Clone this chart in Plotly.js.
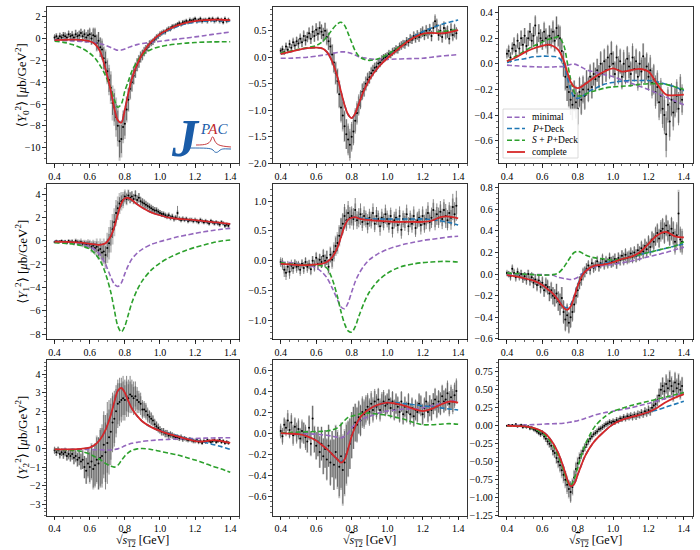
<!DOCTYPE html>
<html><head><meta charset="utf-8">
<script src="https://cdn.plot.ly/plotly-3.0.1.min.js"></script>
<style>body{margin:0;background:#fff}#chart{width:700px;height:550px}</style>
</head><body><div id="chart"></div>
<script>
// ---------- data ----------
const xData = [0.40,0.41,0.42,0.43,0.44,0.45,0.46,0.47,0.48,0.49,
0.50,0.51,0.52,0.53,0.54,0.55,0.56,0.57,0.58,0.59,
0.60,0.61,0.62,0.63,0.64,0.65,0.66,0.67,0.68,0.69,
0.70,0.71,0.72,0.73,0.74,0.75,0.76,0.77,0.78,0.79,
0.80,0.81,0.82,0.83,0.84,0.85,0.86,0.87,0.88,0.89,
0.90,0.91,0.92,0.93,0.94,0.95,0.96,0.97,0.98,0.99,
1.00,1.01,1.02,1.03,1.04,1.05,1.06,1.07,1.08,1.09,
1.10,1.11,1.12,1.13,1.14,1.15,1.16,1.17,1.18,1.19,
1.20,1.21,1.22,1.23,1.24,1.25,1.26,1.27,1.28,1.29,
1.30,1.31,1.32,1.33,1.34,1.35,1.36,1.37,1.38,1.39];
const xCurve = [0.40,0.45,0.50,0.55,0.60,0.63,0.66,0.69,0.72,0.74,0.76,0.78,0.80,0.82,0.84,0.87,0.90,0.95,1.00,1.05,1.10,1.15,1.20,1.25,1.30,1.35,1.40];

// Panel 1: <Y_0^2>, column 1
const p1Val = [0.1,0.2,0.0,0.2,0.1,0.3,0.2,0.1,0.4,0.2, 0.3,0.1,0.4,0.2,0.3,0.5,0.2,0.4,0.1,0.3,
0.4,0.0,0.3,0.2,-0.4,-0.2,-0.8,-1.0,-1.8,-2.2, -3.0,-3.8,-4.5,-5.9,-6.3,-7.2,-8.0,-9.4,-9.2,-8.1,
-7.8,-6.5,-5.6,-4.6,-4.0,-3.4,-2.9,-2.4,-2.1,-1.7, -1.5,-1.2,-1.0,-0.8,-0.5,-0.4,-0.3,-0.1,0.1,0.2,
0.4,0.5,0.6,0.6,0.8,0.9,0.9,1.1,1.1,1.2, 1.3,1.4,1.3,1.5,1.5,1.6,1.5,1.7,1.6,1.7,
1.8,1.6,1.7,1.8,1.6,1.7,1.7,1.6,1.8,1.7, 1.8,1.6,1.7,1.8,1.6,1.7,1.5,1.8,1.6,1.7];
const p1Stat = [.3,.25,.3,.35,.3,.3,.4,.3,.35,.3, .4,.35,.4,.4,.45,.4,.5,.45,.5,.5,
.6,.55,.7,.8,.7,.8,.9,.8,1,1, 1,1.1,1.2,1.1,1.3,1.2,1.4,1.5,1.3,1.2,
1.1,1,1,.9,.8,.8,.7,.6,.6,.5, .5,.45,.4,.4,.35,.3,.3,.3,.3,.25,
.25,.25,.2,.25,.2,.2,.25,.2,.2,.2, .2,.2,.2,.2,.15,.2,.2,.15,.2,.2,
.2,.2,.15,.2,.2,.15,.2,.2,.15,.2, .2,.15,.2,.2,.15,.2,.2,.15,.2,.2];
const p1Sys = [.2,.3,.2,.3,.25,.3,.3,.35,.3,.3, .35,.3,.4,.35,.4,.4,.45,.4,.45,.5,
.5,.6,.6,.7,.8,.8,.9,1,1.1,1.2, 1.2,1.4,1.5,1.6,1.7,1.8,1.9,1.8,1.7,1.5,
1.4,1.2,1.1,1,.9,.8,.7,.6,.55,.5, .45,.4,.4,.35,.3,.3,.3,.25,.25,.25,
.25,.2,.25,.2,.2,.25,.2,.2,.25,.2, .2,.25,.2,.2,.25,.2,.2,.25,.2,.2,
.2,.25,.2,.2,.25,.2,.2,.25,.2,.2, .2,.25,.2,.2,.25,.2,.2,.25,.2,.2];
const p1Min = [-0.15,-0.18,-0.22,-0.26,-0.32,-0.38,-0.48,-0.62,-0.82,-0.96,-1.08,-1.06,-0.95,-0.82,-0.70,-0.56,-0.46,-0.35,-0.25,-0.15,-0.05,0.05,0.15,0.26,0.38,0.49,0.60];
const p1PDeck = [-0.12,-0.10,-0.10,-0.12,-0.25,-0.5,-1.2,-2.8,-4.8,-6.4,-7.5,-7.7,-6.5,-5.0,-3.7,-2.4,-1.4,-0.35,0.3,0.75,1.1,1.35,1.5,1.58,1.63,1.64,1.62];
const p1SPDeck = [-0.25,-0.35,-0.55,-0.85,-1.35,-1.8,-2.5,-3.4,-4.6,-5.6,-6.3,-6.0,-4.8,-3.9,-3.0,-2.1,-1.5,-1.0,-0.75,-0.6,-0.5,-0.42,-0.37,-0.33,-0.31,-0.30,-0.29];
const p1Full = [-0.15,-0.12,-0.10,-0.12,-0.25,-0.5,-1.2,-2.8,-4.8,-6.4,-7.5,-7.7,-6.5,-5.0,-3.7,-2.4,-1.4,-0.3,0.4,0.85,1.2,1.45,1.6,1.68,1.72,1.72,1.68];

// Panel 2: <Y_0^2>, column 2
const p2Val = [0.12,0.15,0.10,0.20,0.14,0.25,0.18,0.28,0.22,0.30, 0.26,0.35,0.28,0.40,0.32,0.38,0.45,0.35,0.48,0.40,
0.52,0.44,0.55,0.48,0.42,0.50,0.38,0.30,0.20,0.05, -0.10,-0.30,-0.45,-0.70,-0.95,-1.10,-1.30,-1.45,-1.55,-1.65,
-1.50,-1.40,-1.20,-1.05,-0.90,-0.80,-0.65,-0.60,-0.50,-0.42, -0.38,-0.30,-0.25,-0.20,-0.18,-0.12,-0.10,-0.05,-0.02,0.00,
0.02,0.06,0.05,0.10,0.12,0.15,0.14,0.20,0.22,0.25, 0.24,0.30,0.28,0.35,0.33,0.40,0.36,0.42,0.38,0.45,
0.48,0.42,0.50,0.45,0.52,0.40,0.55,0.68,0.60,0.42, 0.50,0.38,0.55,0.45,0.48,0.35,0.52,0.42,0.50,0.45];
const p2Stat = [.06,.07,.06,.08,.07,.08,.07,.09,.08,.09, .09,.1,.09,.11,.1,.1,.12,.1,.12,.11,
.12,.13,.12,.14,.13,.15,.14,.16,.16,.18, .18,.2,.22,.24,.25,.26,.28,.28,.3,.3,
.28,.26,.24,.22,.2,.18,.16,.15,.14,.13, .12,.12,.11,.1,.1,.09,.09,.09,.08,.08,
.08,.08,.07,.08,.07,.08,.07,.08,.08,.07, .08,.08,.08,.09,.08,.09,.08,.09,.09,.1,
.1,.1,.11,.1,.11,.1,.12,.13,.13,.11, .12,.11,.13,.12,.12,.11,.13,.12,.13,.12];
const p2Sys = [.05,.06,.05,.07,.06,.07,.06,.07,.07,.08, .08,.08,.09,.09,.1,.09,.1,.1,.11,.11,
.12,.12,.13,.13,.14,.15,.16,.17,.18,.2, .2,.22,.24,.26,.28,.3,.3,.28,.26,.25,
.24,.22,.2,.18,.16,.15,.14,.13,.12,.12, .11,.1,.1,.09,.09,.09,.08,.08,.08,.07,
.07,.07,.07,.07,.07,.07,.07,.07,.08,.08, .08,.08,.08,.08,.08,.08,.09,.09,.09,.09,
.1,.09,.1,.1,.1,.1,.11,.1,.11,.1, .11,.1,.11,.1,.11,.1,.11,.1,.11,.1];
const p2Min = [-0.02,-0.02,-0.01,0.00,0.02,0.035,0.05,0.07,0.09,0.10,0.10,0.09,0.07,0.04,0.01,-0.01,-0.03,-0.04,-0.04,-0.035,-0.03,-0.025,-0.02,0.0,0.02,0.035,0.05];
const p2PDeck = [0.06,0.10,0.14,0.17,0.18,0.17,0.10,-0.08,-0.38,-0.65,-0.90,-1.08,-1.15,-1.06,-0.88,-0.62,-0.42,-0.19,-0.01,0.14,0.28,0.39,0.48,0.55,0.61,0.66,0.70];
const p2SPDeck = [0.08,0.11,0.15,0.18,0.22,0.28,0.38,0.52,0.63,0.66,0.60,0.45,0.28,0.12,0.02,-0.04,-0.06,-0.03,0.05,0.15,0.27,0.37,0.43,0.46,0.48,0.50,0.52];
const p2Full = [0.06,0.10,0.14,0.17,0.18,0.17,0.10,-0.08,-0.38,-0.65,-0.90,-1.08,-1.15,-1.06,-0.88,-0.62,-0.42,-0.19,-0.02,0.12,0.26,0.37,0.44,0.46,0.45,0.47,0.51];

// Panel 3: <Y_0^2>, column 3
const p3Val = [0.08,0.10,0.05,0.12,0.15,0.10,0.18,0.12,0.20,0.15, 0.22,0.14,0.20,0.25,0.18,0.22,0.30,0.15,0.24,0.20,
0.18,0.25,0.20,0.15,0.22,0.20,0.25,0.18,0.28,0.22, 0.20,0.10,0.00,-0.10,-0.18,-0.22,-0.28,-0.32,-0.25,-0.30,
-0.35,-0.22,-0.28,-0.20,-0.25,-0.15,-0.20,-0.10,-0.18,-0.08, -0.12,-0.05,-0.10,0.00,-0.08,0.02,-0.05,0.05,-0.02,0.08,
0.00,-0.08,0.05,-0.05,0.02,-0.10,0.00,-0.06,0.04,-0.02, -0.08,0.05,-0.04,0.02,-0.10,0.00,-0.06,0.06,-0.05,-0.02,
-0.10,-0.05,-0.15,-0.12,-0.22,-0.18,-0.30,-0.25,-0.35,-0.40, -0.55,-0.32,-0.45,-0.28,-0.38,-0.30,-0.25,-0.35,-0.20,-0.28];
const p3Stat = [.04,.05,.04,.05,.06,.05,.06,.05,.06,.06, .06,.07,.06,.07,.06,.07,.08,.06,.07,.07,
.07,.08,.07,.07,.08,.07,.08,.08,.09,.08, .09,.09,.1,.1,.11,.11,.12,.12,.12,.13,
.13,.12,.12,.11,.11,.1,.1,.1,.09,.09, .09,.09,.09,.1,.09,.1,.09,.1,.1,.1,
.1,.1,.1,.11,.1,.1,.11,.1,.1,.11, .1,.11,.1,.1,.11,.1,.11,.1,.1,.11,
.11,.12,.12,.12,.13,.13,.14,.14,.15,.15, .18,.14,.15,.13,.14,.12,.13,.13,.12,.12];
const p3Sys = [.03,.04,.04,.04,.05,.05,.05,.05,.06,.06, .06,.06,.06,.07,.06,.07,.07,.07,.07,.07,
.07,.07,.08,.08,.08,.08,.09,.09,.09,.09, .1,.1,.1,.11,.11,.12,.12,.12,.12,.12,
.12,.11,.11,.1,.1,.1,.09,.09,.09,.09, .09,.09,.09,.09,.09,.09,.09,.09,.09,.09,
.09,.09,.09,.09,.09,.09,.09,.09,.09,.09, .09,.09,.09,.09,.09,.09,.09,.1,.1,.1,
.1,.1,.1,.11,.11,.11,.12,.12,.12,.12, .13,.12,.12,.12,.11,.11,.11,.11,.1,.1];
const p3Min = [-0.01,-0.015,-0.02,-0.022,-0.025,-0.025,-0.024,-0.022,-0.02,-0.012,-0.005,-0.002,-0.01,-0.025,-0.04,-0.055,-0.065,-0.085,-0.10,-0.125,-0.15,-0.175,-0.20,-0.23,-0.26,-0.29,-0.32];
const p3PDeck = [0.01,0.03,0.04,0.055,0.06,0.06,0.058,0.05,0.0,-0.1,-0.2,-0.26,-0.27,-0.26,-0.24,-0.21,-0.19,-0.16,-0.145,-0.135,-0.13,-0.13,-0.13,-0.14,-0.16,-0.18,-0.21];
const p3SPDeck = [0.02,0.06,0.10,0.14,0.17,0.19,0.20,0.21,0.15,0.02,-0.12,-0.22,-0.25,-0.25,-0.24,-0.22,-0.21,-0.19,-0.18,-0.175,-0.17,-0.16,-0.155,-0.155,-0.16,-0.18,-0.20];
const p3Full = [0.02,0.05,0.09,0.12,0.14,0.15,0.14,0.11,0.03,-0.06,-0.14,-0.18,-0.19,-0.18,-0.16,-0.13,-0.10,-0.06,-0.035,-0.06,-0.05,-0.04,-0.06,-0.16,-0.24,-0.245,-0.24];

// Panel 4: <Y_1^2>, column 1
const p4Val = [-0.1,0.0,-0.1,-0.05,0.0,-0.1,-0.05,-0.15,0.0,-0.1, -0.05,-0.2,0.0,-0.1,-0.15,-0.1,-0.25,-0.2,-0.3,-0.25,
-0.3,-0.5,-0.4,-0.6,-0.5,-0.8,-0.7,-1.0,-0.9,-1.2, -0.6,-0.2,0.4,1.0,1.6,2.4,2.8,3.2,3.4,3.5,
3.8,3.6,3.9,3.7,3.8,3.6,3.9,3.5,3.7,3.4, 3.3,3.2,3.1,3.0,2.9,2.8,2.7,2.6,2.6,2.5,
2.4,2.3,2.3,2.2,2.1,2.2,2.0,2.1,1.9,2.0, 2.4,1.9,1.8,1.9,1.8,1.9,1.7,1.8,1.8,1.7,
1.8,1.7,1.6,1.8,1.7,1.6,1.7,1.6,1.5,1.7, 1.6,1.5,1.6,1.5,1.4,1.6,1.5,1.3,1.4,1.3];
const p4Stat = [.1,.1,.1,.1,.12,.1,.12,.12,.12,.12, .15,.15,.15,.15,.18,.18,.2,.2,.25,.25,
.3,.35,.35,.4,.45,.5,.55,.6,.7,.75, .8,.8,.8,.75,.7,.65,.6,.55,.5,.5,
.45,.45,.45,.45,.45,.4,.45,.4,.4,.4, .35,.35,.35,.3,.3,.3,.3,.3,.25,.25,
.25,.25,.2,.2,.2,.2,.2,.2,.2,.2, .6,.2,.2,.2,.15,.15,.15,.15,.15,.15,
.15,.15,.15,.15,.15,.15,.15,.15,.15,.15, .15,.15,.15,.15,.15,.15,.15,.15,.15,.15];
const p4Sys = [.1,.1,.12,.12,.12,.15,.15,.15,.15,.2, .2,.2,.2,.25,.25,.3,.3,.3,.35,.4,
.4,.5,.5,.6,.7,.8,.9,1,1.1,1.2, 1.3,1.4,1.4,1.3,1.2,1.1,1,.9,.8,.7,
.6,.55,.5,.5,.45,.45,.4,.4,.4,.35, .35,.35,.3,.3,.3,.3,.3,.3,.3,.25,
.25,.25,.25,.25,.25,.25,.25,.25,.25,.25, .2,.2,.2,.2,.2,.2,.2,.2,.2,.2,
.2,.2,.2,.2,.2,.2,.2,.2,.2,.2, .2,.2,.2,.2,.2,.2,.2,.2,.2,.2];
const p4Min = [-0.1,-0.15,-0.2,-0.3,-0.5,-0.75,-1.2,-2.0,-3.1,-3.7,-3.9,-3.6,-2.8,-2.1,-1.55,-1.05,-0.7,-0.3,-0.05,0.15,0.35,0.5,0.65,0.78,0.9,1.0,1.08];
const p4PDeck = [-0.02,-0.06,-0.1,-0.15,-0.25,-0.3,-0.33,-0.2,0.4,1.2,2.3,3.2,3.65,3.68,3.5,3.15,2.85,2.45,2.2,2.0,1.9,1.83,1.76,1.68,1.6,1.52,1.44];
const p4SPDeck = [-0.15,-0.2,-0.25,-0.4,-0.7,-1.1,-1.7,-2.8,-4.4,-5.9,-7.3,-7.8,-7.3,-6.3,-5.3,-4.2,-3.4,-2.5,-1.9,-1.45,-1.1,-0.8,-0.55,-0.35,-0.15,0.0,0.08];
const p4Full = [-0.05,-0.08,-0.1,-0.15,-0.25,-0.3,-0.33,-0.2,0.4,1.2,2.3,3.2,3.65,3.68,3.5,3.15,2.85,2.45,2.2,2.0,1.9,1.85,1.78,1.7,1.62,1.55,1.45];

// Panel 5: <Y_1^2>, column 2
const p5Val = [-0.02,-0.05,-0.15,-0.20,-0.10,-0.18,-0.08,-0.12,-0.05,-0.10, -0.08,-0.15,-0.05,-0.12,-0.02,-0.10,-0.06,-0.14,0.00,-0.08,
0.05,-0.05,0.02,-0.02,0.08,0.00,0.05,-0.10,0.10,0.02, 0.15,0.25,0.30,0.42,0.55,0.62,0.75,0.68,0.80,0.72,
0.75,0.70,0.85,0.68,0.72,0.78,0.65,0.75,0.70,0.62, 0.72,0.68,0.80,0.62,0.75,0.70,0.58,0.72,0.65,0.78,
0.70,0.62,0.75,0.55,0.68,0.72,0.60,0.75,0.52,0.70, 0.65,0.78,0.58,0.70,0.62,0.75,0.55,0.68,0.72,0.60,
0.75,0.62,0.70,0.80,0.65,0.72,0.85,0.68,0.78,0.72, 0.82,0.70,0.85,0.75,0.68,0.80,0.72,0.90,0.78,0.92];
const p5Stat = [.08,.1,.12,.12,.1,.12,.1,.1,.08,.1, .08,.1,.08,.1,.08,.1,.08,.1,.08,.1,
.1,.1,.1,.1,.12,.1,.12,.1,.12,.12, .12,.14,.14,.15,.16,.18,.2,.18,.2,.18,
.16,.18,.2,.15,.16,.18,.15,.16,.14,.16, .15,.14,.16,.14,.15,.14,.16,.15,.14,.16,
.14,.15,.14,.16,.14,.15,.14,.16,.15,.14, .15,.16,.15,.14,.15,.16,.15,.14,.15,.16,
.16,.15,.17,.18,.16,.17,.18,.17,.18,.17, .18,.17,.18,.2,.17,.18,.2,.22,.2,.25];
const p5Sys = [.05,.06,.06,.07,.06,.07,.06,.07,.06,.07, .06,.07,.06,.07,.07,.07,.07,.08,.08,.08,
.08,.09,.09,.1,.1,.11,.12,.13,.14,.15, .16,.17,.18,.18,.17,.16,.15,.14,.13,.12,
.12,.11,.11,.1,.1,.1,.1,.1,.1,.1, .1,.1,.1,.1,.1,.1,.1,.1,.1,.1,
.1,.1,.1,.1,.1,.1,.1,.1,.1,.1, .1,.1,.1,.1,.1,.11,.11,.11,.11,.11,
.11,.11,.11,.12,.12,.12,.12,.12,.12,.12, .12,.12,.13,.13,.13,.13,.13,.14,.14,.14];
const p5Min = [-0.02,-0.03,-0.05,-0.07,-0.12,-0.18,-0.28,-0.45,-0.65,-0.77,-0.8,-0.7,-0.52,-0.35,-0.22,-0.08,0.02,0.12,0.19,0.24,0.28,0.31,0.34,0.36,0.38,0.40,0.41];
const p5PDeck = [-0.05,-0.06,-0.07,-0.07,-0.06,-0.05,-0.02,0.06,0.22,0.4,0.58,0.69,0.72,0.73,0.72,0.71,0.70,0.70,0.70,0.70,0.70,0.70,0.70,0.69,0.67,0.64,0.60];
const p5SPDeck = [-0.03,-0.05,-0.06,-0.065,-0.07,-0.08,-0.12,-0.3,-0.6,-0.85,-1.05,-1.17,-1.19,-1.1,-0.93,-0.7,-0.52,-0.33,-0.21,-0.13,-0.08,-0.05,-0.03,-0.02,-0.01,-0.01,-0.02];
const p5Full = [-0.05,-0.06,-0.07,-0.07,-0.06,-0.05,-0.02,0.06,0.22,0.4,0.58,0.69,0.72,0.73,0.71,0.69,0.68,0.67,0.66,0.65,0.65,0.65,0.65,0.67,0.73,0.74,0.71];

// Panel 6: <Y_1^2>, column 3
const p6Val = [0.01,0.00,-0.02,0.05,0.01,-0.03,0.02,-0.02,0.00,-0.04, -0.02,-0.05,0.00,-0.06,-0.03,-0.08,-0.05,-0.10,-0.06,-0.12,
-0.08,-0.15,-0.10,-0.12,-0.18,-0.15,-0.20,-0.22,-0.18,-0.25, -0.28,-0.22,-0.35,-0.42,-0.38,-0.45,-0.40,-0.35,-0.28,-0.20,
-0.15,-0.08,-0.05,0.00,0.02,0.05,0.08,0.04,0.10,0.06, 0.08,0.12,0.07,0.10,0.14,0.09,0.12,0.10,0.15,0.11,
0.12,0.14,0.10,0.15,0.13,0.17,0.14,0.18,0.15,0.16, 0.19,0.16,0.20,0.17,0.22,0.19,0.24,0.21,0.26,0.23,
0.28,0.25,0.32,0.30,0.35,0.38,0.33,0.40,0.42,0.38, 0.45,0.40,0.36,0.42,0.38,0.30,0.36,0.56,0.32,0.30];
const p6Stat = [.03,.03,.04,.04,.04,.04,.04,.04,.04,.04, .04,.05,.04,.05,.05,.05,.05,.06,.05,.06,
.06,.06,.07,.07,.07,.08,.08,.08,.09,.09, .1,.1,.11,.11,.11,.1,.1,.09,.08,.08,
.07,.06,.06,.06,.05,.05,.05,.05,.05,.05, .05,.05,.05,.05,.05,.05,.05,.05,.05,.05,
.05,.05,.05,.05,.05,.05,.06,.06,.06,.06, .06,.06,.06,.06,.06,.07,.07,.07,.07,.07,
.08,.08,.08,.08,.09,.09,.09,.1,.1,.1, .1,.1,.1,.11,.11,.12,.12,.2,.12,.12];
const p6Sys = [.02,.03,.03,.03,.03,.03,.03,.03,.04,.04, .04,.04,.04,.04,.04,.05,.05,.05,.05,.05,
.05,.06,.06,.06,.07,.07,.08,.08,.09,.09, .1,.1,.1,.1,.1,.09,.09,.08,.07,.07,
.06,.06,.05,.05,.05,.05,.04,.04,.04,.04, .04,.04,.04,.04,.04,.04,.04,.04,.04,.05,
.05,.05,.05,.05,.05,.05,.05,.05,.05,.05, .05,.05,.05,.06,.06,.06,.06,.06,.06,.07,
.07,.07,.07,.07,.08,.08,.08,.08,.09,.09, .09,.09,.09,.1,.1,.1,.1,.22,.1,.1];
const p6Min = [0.0,0.0,0.0,-0.003,-0.005,-0.008,-0.01,-0.03,-0.04,-0.045,-0.05,-0.045,-0.03,0.0,0.02,0.05,0.07,0.08,0.09,0.105,0.12,0.14,0.16,0.18,0.2,0.225,0.25];
const p6PDeck = [-0.01,-0.02,-0.04,-0.06,-0.1,-0.14,-0.18,-0.24,-0.3,-0.31,-0.28,-0.2,-0.1,-0.02,0.03,0.06,0.08,0.1,0.12,0.14,0.16,0.18,0.2,0.22,0.24,0.26,0.28];
const p6SPDeck = [0.01,0.005,0.0,-0.005,-0.01,-0.008,-0.005,0.01,0.06,0.11,0.16,0.2,0.21,0.2,0.18,0.16,0.15,0.14,0.13,0.14,0.16,0.18,0.2,0.22,0.24,0.26,0.3];
const p6Full = [-0.01,-0.02,-0.04,-0.06,-0.1,-0.14,-0.18,-0.24,-0.31,-0.33,-0.3,-0.21,-0.11,-0.03,0.02,0.06,0.08,0.09,0.11,0.14,0.16,0.2,0.28,0.36,0.39,0.35,0.34];

// Panel 7: <Y_2^2>, column 1
const p7Val = [-0.1,-0.2,-0.1,-0.3,-0.2,-0.3,-0.2,-0.4,-0.3,-0.4, -0.3,-0.5,-0.4,-0.6,-0.5,-0.7,-0.6,-1.0,-1.2,-0.8,
-1.0,-0.7,-1.1,-0.9,-0.6,-0.8,-0.5,-0.4,0.2,-0.2, 0.3,0.6,0.9,1.4,1.6,2.0,2.4,2.5,2.6,2.7,
2.6,2.8,2.7,2.9,2.8,2.7,2.8,2.6,2.5,2.4, 2.1,2.1,2.0,1.8,1.7,1.6,1.5,1.3,1.2,1.1,
1.0,0.9,0.9,0.8,0.8,0.7,0.75,0.7,0.65,0.6, 0.6,0.55,0.6,0.5,0.55,0.5,0.45,0.5,0.45,0.4,
0.4,0.45,0.35,0.4,0.3,0.4,0.35,0.45,0.4,0.35, 0.4,0.45,0.35,0.4,0.45,0.35,0.4,0.3,0.35,0.3];
const p7Stat = [.2,.2,.2,.25,.2,.25,.2,.25,.25,.3, .3,.35,.3,.35,.4,.4,.5,.6,.7,.7,
.8,.9,1,1.1,1.2,1.4,1.6,1.7,1.8,2.0, 2.2,2.0,1.8,1.6,1.5,1.4,1.3,1.3,1.2,1.2,
1.1,1.1,1.0,1.0,.9,.9,.8,.7,.6,.6, .5,.45,.45,.4,.35,.35,.3,.3,.25,.25,
.2,.2,.2,.2,.2,.18,.18,.18,.15,.15, .15,.15,.15,.15,.12,.12,.12,.12,.12,.12,
.12,.12,.12,.12,.1,.1,.1,.1,.1,.1, .1,.1,.1,.1,.1,.1,.1,.1,.1,.1];
const p7Sys = [.15,.2,.2,.2,.2,.25,.25,.25,.3,.3, .3,.35,.35,.4,.4,.45,.5,.6,.7,.8,
.9,1.0,1.1,1.2,1.3,1.4,1.5,1.5,1.6,1.6, 1.6,1.5,1.5,1.4,1.3,1.2,1.1,1.0,.9,.9,
.8,.8,.75,.7,.65,.6,.55,.5,.45,.4, .4,.35,.35,.3,.3,.3,.25,.25,.25,.2,
.2,.2,.2,.2,.2,.2,.15,.15,.15,.15, .15,.15,.15,.12,.12,.12,.12,.12,.12,.12,
.12,.12,.1,.1,.1,.1,.1,.1,.1,.1, .1,.1,.1,.1,.1,.1,.1,.1,.1,.1];
const p7Min = [-0.05,-0.05,-0.05,-0.055,-0.06,-0.065,-0.07,-0.08,-0.08,-0.06,-0.02,0.05,0.15,0.22,0.28,0.33,0.38,0.43,0.47,0.49,0.51,0.53,0.54,0.555,0.565,0.575,0.58];
const p7PDeck = [-0.05,-0.05,-0.05,-0.02,0.05,0.2,0.5,1.0,1.8,2.5,3.1,3.25,3.0,2.55,2.15,1.75,1.45,1.15,0.97,0.82,0.68,0.55,0.45,0.35,0.22,0.1,-0.05];
const p7SPDeck = [-0.05,-0.07,-0.1,-0.15,-0.3,-0.45,-0.6,-0.8,-0.95,-1.0,-0.9,-0.65,-0.4,-0.22,-0.1,-0.02,0.0,-0.05,-0.15,-0.25,-0.35,-0.48,-0.62,-0.78,-0.95,-1.1,-1.28];
const p7Full = [-0.05,-0.05,-0.05,-0.02,0.05,0.2,0.5,1.0,1.8,2.5,3.1,3.25,3.0,2.55,2.15,1.75,1.45,1.15,0.95,0.78,0.65,0.52,0.4,0.38,0.45,0.4,0.3];

// Panel 8: <Y_2^2>, column 2
const p8Val = [0.02,-0.03,0.08,0.05,0.12,0.03,0.10,-0.02,0.06,0.00, 0.04,-0.05,0.02,0.00,-0.04,-0.08,0.05,-0.10,0.14,-0.06,
-0.12,-0.08,-0.18,-0.10,-0.22,-0.15,-0.25,-0.12,-0.28,-0.20, -0.30,-0.18,-0.25,-0.32,-0.22,-0.35,-0.28,-0.20,-0.15,-0.10,
-0.02,0.05,0.10,0.08,0.15,0.12,0.20,0.18,0.22,0.25, 0.20,0.28,0.22,0.30,0.25,0.32,0.22,0.28,0.30,0.26,
0.28,0.32,0.24,0.30,0.22,0.28,0.25,0.20,0.30,0.18, 0.25,0.20,0.28,0.18,0.24,0.16,0.22,0.20,0.28,0.26,
0.18,0.24,0.30,0.20,0.26,0.22,0.28,0.32,0.25,0.30, 0.28,0.35,0.30,0.32,0.38,0.28,0.34,0.30,0.36,0.40];
const p8Stat = [.07,.08,.07,.08,.1,.08,.09,.1,.09,.1, .1,.1,.11,.1,.12,.1,.12,.11,.12,.12,
.13,.14,.15,.16,.17,.18,.2,.2,.22,.22, .24,.25,.26,.28,.3,.32,.3,.28,.26,.24,
.22,.2,.18,.17,.16,.15,.15,.14,.14,.13, .13,.12,.12,.12,.12,.11,.11,.11,.11,.1,
.1,.1,.1,.1,.1,.1,.1,.1,.1,.1, .1,.1,.1,.1,.1,.1,.1,.1,.1,.1,
.1,.1,.1,.1,.1,.1,.1,.11,.11,.11, .11,.11,.11,.11,.12,.12,.12,.12,.12,.12];
const p8Sys = [.05,.06,.06,.06,.07,.07,.07,.08,.08,.08, .08,.09,.09,.1,.1,.11,.11,.12,.12,.13,
.13,.14,.15,.16,.17,.18,.19,.2,.21,.22, .24,.26,.28,.3,.32,.34,.32,.3,.27,.24,
.22,.2,.18,.16,.15,.14,.13,.12,.12,.11, .11,.1,.1,.1,.1,.1,.09,.09,.09,.09,
.09,.09,.09,.09,.09,.09,.09,.09,.09,.09, .09,.09,.09,.09,.09,.09,.09,.09,.09,.09,
.09,.09,.09,.09,.1,.1,.1,.1,.1,.1, .1,.1,.1,.1,.1,.1,.1,.1,.1,.1];
const p8Min = [0.0,0.0,0.0,-0.005,-0.01,-0.015,-0.02,-0.03,-0.04,-0.045,-0.03,0.0,0.05,0.08,0.11,0.14,0.16,0.19,0.21,0.22,0.23,0.23,0.24,0.26,0.28,0.3,0.31];
const p8PDeck = [0.0,-0.005,-0.01,-0.03,-0.07,-0.11,-0.15,-0.2,-0.25,-0.27,-0.24,-0.15,-0.03,0.06,0.13,0.19,0.23,0.27,0.29,0.29,0.28,0.27,0.26,0.25,0.24,0.23,0.22];
const p8SPDeck = [0.0,0.005,0.01,0.012,0.015,0.017,0.02,0.03,0.05,0.08,0.12,0.15,0.16,0.17,0.18,0.19,0.19,0.18,0.17,0.15,0.13,0.1,0.08,0.08,0.085,0.09,0.085];
const p8Full = [0.0,-0.005,-0.01,-0.03,-0.07,-0.11,-0.15,-0.2,-0.25,-0.28,-0.25,-0.15,-0.03,0.06,0.13,0.19,0.23,0.27,0.29,0.28,0.26,0.23,0.21,0.23,0.27,0.3,0.29];

// Panel 9: <Y_2^2>, column 3
const p9Val = [0.00,0.01,0.00,0.01,0.00,0.02,-0.01,0.00,0.01,-0.02, 0.00,-0.02,-0.01,-0.04,-0.03,-0.05,-0.06,-0.08,-0.10,-0.12,
-0.10,-0.15,-0.18,-0.22,-0.25,-0.28,-0.35,-0.38,-0.45,-0.50, -0.55,-0.62,-0.68,-0.75,-0.82,-0.88,-0.92,-0.85,-0.72,-0.60,
-0.52,-0.45,-0.40,-0.35,-0.30,-0.26,-0.22,-0.18,-0.15,-0.12, -0.10,-0.08,-0.05,-0.04,-0.02,0.00,0.02,0.03,0.05,0.04,
0.06,0.05,0.08,0.07,0.10,0.09,0.12,0.10,0.13,0.12, 0.14,0.12,0.15,0.13,0.16,0.15,0.18,0.16,0.20,0.18,
0.22,0.20,0.25,0.28,0.30,0.35,0.42,0.50,0.55,0.48, 0.58,0.52,0.62,0.55,0.48,0.60,0.52,0.58,0.50,0.55];
const p9Stat = [.01,.01,.01,.01,.015,.015,.015,.015,.02,.02, .02,.02,.02,.025,.025,.03,.03,.03,.035,.035,
.04,.04,.045,.05,.05,.055,.06,.06,.07,.07, .08,.08,.09,.09,.1,.11,.15,.1,.09,.08,
.07,.06,.06,.05,.05,.05,.04,.04,.04,.04, .04,.04,.04,.04,.04,.04,.04,.04,.04,.04,
.04,.04,.04,.04,.04,.04,.04,.04,.05,.05, .05,.05,.05,.05,.05,.05,.05,.05,.06,.06,
.06,.06,.07,.07,.08,.08,.1,.1,.12,.12, .12,.12,.13,.12,.13,.13,.12,.13,.12,.12];
const p9Sys = [.01,.01,.01,.01,.01,.015,.015,.015,.015,.02, .02,.02,.02,.02,.025,.025,.03,.03,.03,.035,
.035,.04,.045,.05,.055,.06,.065,.07,.08,.09, .1,.11,.12,.12,.13,.13,.13,.12,.11,.1,
.09,.08,.07,.06,.06,.05,.05,.05,.04,.04, .04,.04,.04,.04,.04,.04,.04,.04,.04,.04,
.04,.04,.04,.04,.04,.04,.04,.04,.04,.04, .04,.04,.04,.05,.05,.05,.05,.05,.05,.05,
.06,.06,.06,.07,.07,.08,.09,.1,.12,.12, .14,.14,.15,.14,.15,.15,.14,.15,.14,.13];
const p9Min = [0.0,0.005,0.01,0.015,0.02,0.025,0.028,0.03,0.035,0.04,0.05,0.06,0.07,0.085,0.1,0.125,0.15,0.18,0.2,0.225,0.25,0.28,0.31,0.345,0.38,0.42,0.46];
const p9PDeck = [0.0,-0.005,-0.01,-0.03,-0.08,-0.14,-0.24,-0.38,-0.58,-0.74,-0.84,-0.81,-0.68,-0.55,-0.43,-0.3,-0.2,-0.08,0.02,0.08,0.12,0.15,0.19,0.22,0.26,0.3,0.34];
const p9SPDeck = [0.0,-0.005,-0.01,-0.04,-0.1,-0.17,-0.27,-0.42,-0.62,-0.77,-0.83,-0.74,-0.58,-0.42,-0.28,-0.12,0.0,0.12,0.2,0.24,0.28,0.31,0.34,0.37,0.4,0.43,0.46];
const p9Full = [0.0,-0.005,-0.01,-0.03,-0.08,-0.14,-0.24,-0.38,-0.58,-0.74,-0.84,-0.81,-0.68,-0.55,-0.43,-0.3,-0.2,-0.08,0.02,0.08,0.12,0.15,0.19,0.25,0.33,0.39,0.44];

const seriesNames = ['minimal', '<i>P</i>+Deck', '<i>S</i> + <i>P</i>+Deck', 'complete'];
const xTickVals = [0.4,0.6,0.8,1.0,1.2,1.4];

// ---------- assembly ----------
const panels = [
  {v:p1Val,s:p1Stat,g:p1Sys,c:[p1Min,p1PDeck,p1SPDeck,p1Full]},
  {v:p2Val,s:p2Stat,g:p2Sys,c:[p2Min,p2PDeck,p2SPDeck,p2Full]},
  {v:p3Val,s:p3Stat,g:p3Sys,c:[p3Min,p3PDeck,p3SPDeck,p3Full]},
  {v:p4Val,s:p4Stat,g:p4Sys,c:[p4Min,p4PDeck,p4SPDeck,p4Full]},
  {v:p5Val,s:p5Stat,g:p5Sys,c:[p5Min,p5PDeck,p5SPDeck,p5Full]},
  {v:p6Val,s:p6Stat,g:p6Sys,c:[p6Min,p6PDeck,p6SPDeck,p6Full]},
  {v:p7Val,s:p7Stat,g:p7Sys,c:[p7Min,p7PDeck,p7SPDeck,p7Full]},
  {v:p8Val,s:p8Stat,g:p8Sys,c:[p8Min,p8PDeck,p8SPDeck,p8Full]},
  {v:p9Val,s:p9Stat,g:p9Sys,c:[p9Min,p9PDeck,p9SPDeck,p9Full]}
];
const W = 700, H = 550;
const colPx = [[46.7,239],[272.7,467],[499,692.7]];
const rowPx = [[7.3,163.3],[184,339.5],[359.7,515.7]];
const yCfg = [
  {r:[-11.43,2.86], d:2, f:'', m:0.5},
  {r:[-2.0,0.941], d:0.5, f:'.1f', m:0.1},
  {r:[-0.777,0.442], d:0.2, f:'.1f', m:0.05},
  {r:[-8.45,4.88], d:2, f:'', m:0.5},
  {r:[-1.314,1.284], d:0.5, f:'.1f', m:0.1},
  {r:[-0.605,0.834], d:0.2, f:'.1f', m:0.05},
  {r:[-3.61,4.77], d:1, f:'', m:0.2},
  {r:[-0.785,0.698], d:0.2, f:'.1f', m:0.05},
  {r:[-1.25,0.917], d:0.25, f:'.2f', m:0.0625}
];
const colors = ['#9467bd','#1f77b4','#2ca02c','#d62728'];
const FONT = 'Liberation Serif, DejaVu Serif, serif';
const yTitles = ['⟨<i>Y</i><sub>0</sub><sup>2</sup>⟩ [<i>μ</i>b/GeV<sup>2</sup>]',
                 '⟨<i>Y</i><sub>1</sub><sup>2</sup>⟩ [<i>μ</i>b/GeV<sup>2</sup>]',
                 '⟨<i>Y</i><sub>2</sub><sup>2</sup>⟩ [<i>μ</i>b/GeV<sup>2</sup>]'];
const xTitle = '√<span style="text-decoration:overline"><i>s</i><sub>12</sub></span> [GeV]';

const traces = [];
const layout = {
  width: W, height: H, margin:{l:0,r:0,t:0,b:0}, showlegend:false,
  paper_bgcolor:'#fff', plot_bgcolor:'#fff', font:{family:FONT, color:'#000'},
  shapes:[], annotations:[]
};
const axBase = {showline:true, linecolor:'#000', linewidth:0.8, mirror:true, ticks:'outside',
  ticklen:3.5, tickwidth:0.8, tickcolor:'#000', showgrid:false, zeroline:false, automargin:false,
  tickfont:{family:FONT, size:10, color:'#000'}};

panels.forEach((p, i) => {
  const r = Math.floor(i/3), c = i%3;
  const sfx = i === 0 ? '' : String(i+1);
  const xa = 'x'+sfx, ya = 'y'+sfx;
  traces.push({x:xData, y:p.v, type:'scatter', mode:'markers', xaxis:xa, yaxis:ya, hoverinfo:'skip',
    marker:{size:1, color:'rgba(0,0,0,0)'},
    error_y:{type:'data', array:p.g, visible:true, color:'rgba(170,170,170,0.7)', thickness:2, width:0}});
  traces.push({x:xData, y:p.v, type:'scatter', mode:'markers', xaxis:xa, yaxis:ya,
    marker:{size:2, color:'#000'},
    error_y:{type:'data', array:p.s, visible:true, color:'rgba(20,20,20,0.8)', thickness:0.65, width:0}});
  p.c.forEach((cv, k) => {
    traces.push({x:xCurve, y:cv, type:'scatter', mode:'lines', xaxis:xa, yaxis:ya, name:seriesNames[k],
      line:{color:colors[k], width:k===3?1.8:1.6, dash:k===3?'solid':'5px,2.5px', shape:'spline', smoothing:0.9}});
  });
  const yc = yCfg[i];
  const xdom = [colPx[c][0]/W, colPx[c][1]/W];
  const ydom = [1-rowPx[r][1]/H, 1-rowPx[r][0]/H];
  const xax = Object.assign({}, axBase, {domain:xdom, anchor:ya, range:[0.355,1.45], tickvals:xTickVals, tickformat:'.1f',
    minor:{dtick:0.05, tick0:0.4, ticks:'outside', ticklen:2, tickwidth:0.6, tickcolor:'#000', showgrid:false}});
  const yax = Object.assign({}, axBase, {domain:ydom, anchor:xa, range:yc.r, dtick:yc.d, tick0:0, tickformat:yc.f,
    minor:{dtick:yc.m, tick0:0, ticks:'outside', ticklen:2, tickwidth:0.6, tickcolor:'#000', showgrid:false}});
  layout['xaxis'+sfx] = xax;
  layout['yaxis'+sfx] = yax;
  if (c === 0) {
    layout.annotations.push({xref:'paper', yref:'paper', x:22/W, y:1-(rowPx[r][0]+rowPx[r][1])/2/H,
      xanchor:'center', yanchor:'middle', textangle:-90, showarrow:false, text:yTitles[r],
      font:{family:FONT, size:13, color:'#000'}});
  }
  if (r === 2) {
    layout.annotations.push({xref:'paper', yref:'paper', x:(colPx[c][0]+colPx[c][1])/2/W, y:1-541/H,
      xanchor:'center', yanchor:'middle', showarrow:false, text:xTitle,
      font:{family:FONT, size:12, color:'#000'}});
  }
});

// ---------- legend (drawn in panel 3) ----------
const P = (x,y) => [x/W, 1-y/H];
const legBox = {l:503, t:109, r:578, b:158};
layout.shapes.push({type:'rect', xref:'paper', yref:'paper', x0:legBox.l/W, x1:legBox.r/W, y0:1-legBox.b/H, y1:1-legBox.t/H,
  fillcolor:'rgba(255,255,255,0.9)', line:{color:'#d0d0d0', width:0.8}, layer:'above'});
const legY = [117.3,128.5,140.2,152];
seriesNames.forEach((nm, k) => {
  layout.shapes.push({type:'line', xref:'paper', yref:'paper', x0:507/W, x1:525/W, y0:1-legY[k]/H, y1:1-legY[k]/H,
    line:{color:colors[k], width:k===3?1.8:1.6, dash:k===3?'solid':'5px,2.5px'}, layer:'above'});
  layout.annotations.push({xref:'paper', yref:'paper', x:530/W, y:1-legY[k]/H, xanchor:'left', yanchor:'middle',
    text:nm, showarrow:false, font:{family:FONT, size:9.5, color:'#000'}});
});

// ---------- JPAC logo (panel 1) ----------
const path = (cmds) => cmds.map(c => c[0] + c.slice(1).map(pt => P(pt[0],pt[1]).join(',')).join(' ')).join(' ');
layout.shapes.push({type:'path', xref:'paper', yref:'paper', layer:'above', line:{color:'#1a5ca8', width:0.9},
  path: path([['M',[190,148]],['C',[205,148],[211,148],[213,150]],['C',[215,153],[217,153],[219,151]],['C',[222,148],[225,149],[231,149]]])});
layout.shapes.push({type:'path', xref:'paper', yref:'paper', layer:'above', line:{color:'#c0282d', width:0.9},
  path: path([['M',[196,145]],['C',[206,145],[209,144],[211,140]],['C',[212,136],[213,136],[214,139]],['C',[216,145],[219,146],[231,147]]])});
layout.annotations.push({xref:'paper', yref:'paper', x:185/W, y:1-139/H, xanchor:'center', yanchor:'middle', showarrow:false,
  text:'J', font:{family:'Liberation Serif', size:52, color:'#1a5ca8', weight:'bold', style:'italic'}});
layout.annotations.push({xref:'paper', yref:'paper', x:198/W, y:1-129/H, xanchor:'left', yanchor:'middle', showarrow:false,
  text:'<span style="color:#1a5ca8">P</span><span style="color:#c0282d">A</span><span style="color:#1a5ca8">C</span>',
  font:{family:'Liberation Serif', size:15, color:'#1a5ca8', style:'italic'}});

Plotly.newPlot('chart', traces, layout, {displayModeBar:false, staticPlot:true});
</script></body></html>
